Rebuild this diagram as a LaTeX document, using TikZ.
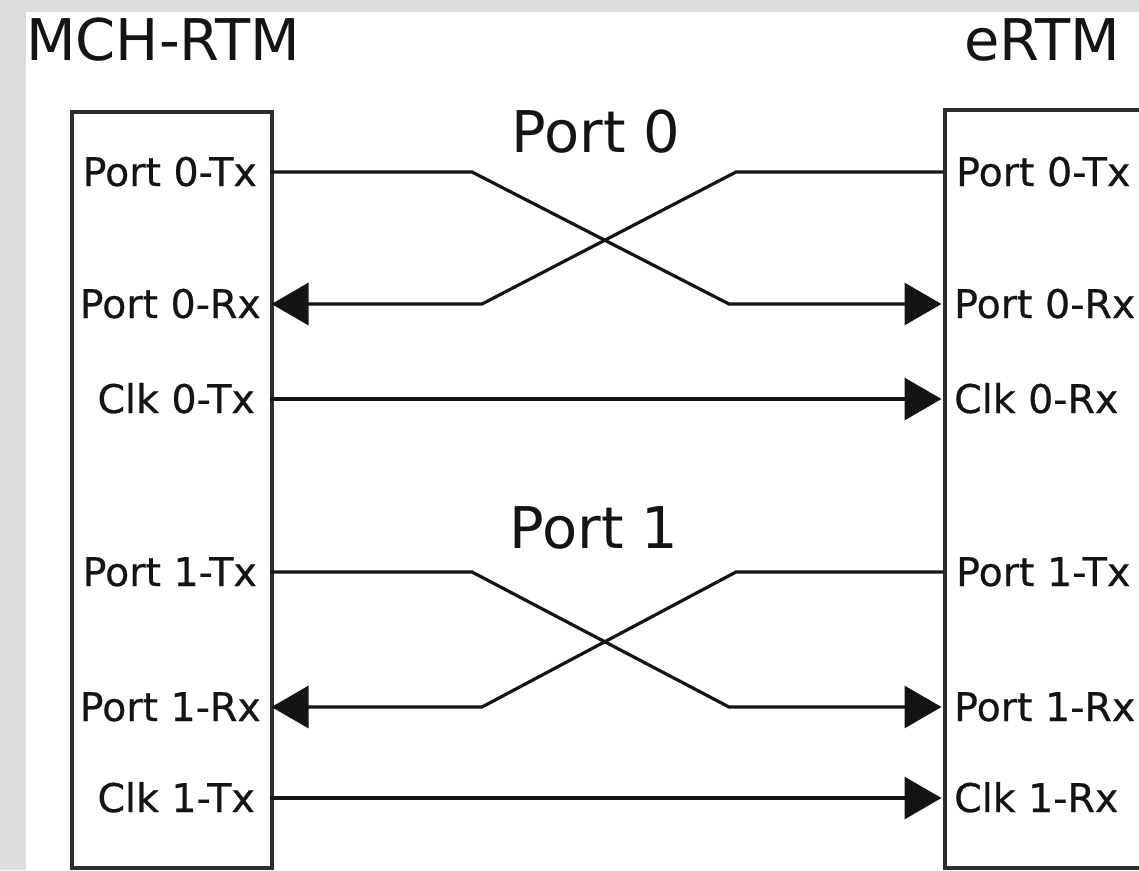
\documentclass[tikz,border=0pt]{standalone}
\usepackage{fontspec}
\setmainfont{DejaVu Sans}
\newfontfamily\lblfont[FakeBold=0.5]{DejaVu Sans}
\usetikzlibrary{arrows.meta}
\definecolor{pagegrey}{RGB}{220,220,222}
\definecolor{ink}{RGB}{20,20,20}
\definecolor{frame}{RGB}{45,45,45}
\begin{document}
\begin{tikzpicture}[x=1pt,y=-1pt,
  card/.style={draw=frame, line width=3.5pt, inner sep=0pt, anchor=north west},
  sig/.style={draw=ink, line width=3.2pt, line join=miter},
  tip/.style={-{Triangle[length=37pt,width=42pt]}, shorten >=1.5pt},
  plabel/.style={font=\lblfont\fontsize{39.5}{40}\selectfont, text=ink, inner sep=0pt},
  title/.style={font=\fontsize{57.5}{58}\selectfont, text=ink, inner sep=0pt}]
\useasboundingbox (0,0) rectangle (1139,870);
% page background and white sheet
\fill[pagegrey] (0,0) rectangle (1139,870);
\fill[white] (26,12) rectangle (1139,870);
\begin{scope}
\clip (0,0) rectangle (1139,870);

% the two cards
\node[card, minimum width=200pt, minimum height=756pt] (mch) at (70,110) {};
\node[card, minimum width=260pt, minimum height=758pt] (ertm) at (943,108) {};

% titles
\node[title, anchor=base west] (tmch) at (26,60) {MCH-RTM};
\node[title, anchor=base west] (tertm) at (964,60) {eRTM};
\node[title, anchor=base] (tp0) at (596,152) {Port 0};
\node[title, anchor=base] (tp1) at (594,548) {Port 1};

% connection points on the card edges
\coordinate (l0t) at (270,172);
\coordinate (l0r) at (270,304);
\coordinate (l0c) at (270,399);
\coordinate (l1t) at (270,572);
\coordinate (l1r) at (270,707);
\coordinate (l1c) at (270,798);
\coordinate (r0t) at (943,172);
\coordinate (r0r) at (943,304);
\coordinate (r0c) at (943,399);
\coordinate (r1t) at (943,572);
\coordinate (r1r) at (943,707);
\coordinate (r1c) at (943,798);

% port labels, MCH-RTM side
\node[plabel, anchor=base east] (a0t) at (257,186) {Port 0-Tx};
\node[plabel, anchor=base east] (a0r) at (261,318) {Port 0-Rx};
\node[plabel, anchor=base east] (a0c) at (255,413) {Clk 0-Tx};
\node[plabel, anchor=base east] (a1t) at (257,586) {Port 1-Tx};
\node[plabel, anchor=base east] (a1r) at (261,721) {Port 1-Rx};
\node[plabel, anchor=base east] (a1c) at (255,812) {Clk 1-Tx};

% port labels, eRTM side
\node[plabel, anchor=base west] (b0t) at (956,186) {Port 0-Tx};
\node[plabel, anchor=base west] (b0r) at (954,318) {Port 0-Rx};
\node[plabel, anchor=base west] (b0c) at (954,413) {Clk 0-Rx};
\node[plabel, anchor=base west] (b1t) at (956,586) {Port 1-Tx};
\node[plabel, anchor=base west] (b1r) at (954,721) {Port 1-Rx};
\node[plabel, anchor=base west] (b1c) at (954,812) {Clk 1-Rx};

% port 0 crossover
\draw[sig, tip] (l0t) -- (472,172) -- (729,304) -- (r0r);
\draw[sig, tip] (r0t) -- (736,172) -- (482,304) -- (l0r);
\draw[sig, tip] (l0c) -- (r0c);

% port 1 crossover
\draw[sig, tip] (l1t) -- (472,572) -- (729,707) -- (r1r);
\draw[sig, tip] (r1t) -- (736,572) -- (482,707) -- (l1r);
\draw[sig, tip] (l1c) -- (r1c);
\end{scope}
\end{tikzpicture}
\end{document}
